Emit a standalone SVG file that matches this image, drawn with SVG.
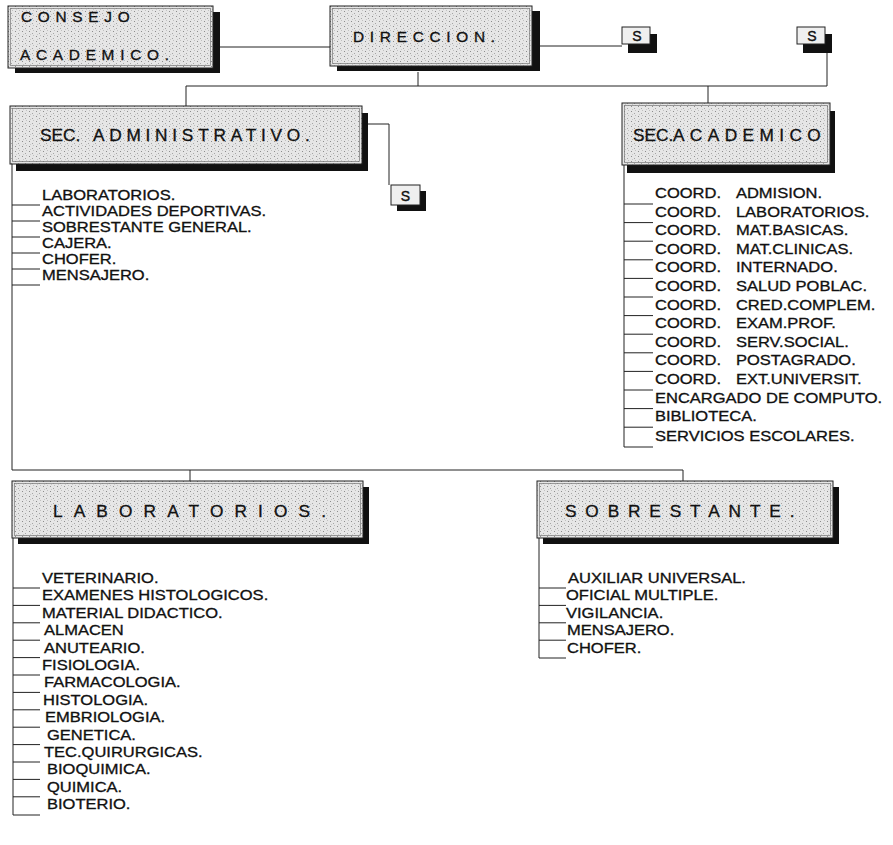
<svg xmlns="http://www.w3.org/2000/svg" width="893" height="845" viewBox="0 0 893 845">
<defs>
<pattern id="stip" width="7" height="5" patternUnits="userSpaceOnUse">
<rect width="7" height="5" fill="#e6e6e6"/>
<rect x="1" y="1" width="1" height="1" fill="#8c8c8c"/>
<rect x="4" y="3" width="1" height="1" fill="#a5a5a5"/>
<rect x="5" y="0" width="1" height="1" fill="#c0c0c0"/>
<rect x="2" y="4" width="1" height="1" fill="#c8c8c8"/>
</pattern>
</defs>
<style>
.sh{fill:#111}
.bx{fill:url(#stip);stroke:#222;stroke-width:1}
.in{fill:none;stroke:#777;stroke-width:0.7}
.sb{fill:#efefef;stroke:#222;stroke-width:1}
.ttl{font-family:"Liberation Sans",Arial,sans-serif;font-size:14px;fill:#111;stroke:#111;stroke-width:0.3px;letter-spacing:5.2px}
.sec{font-family:"Liberation Sans",Arial,sans-serif;font-size:16px;fill:#111;stroke:#111;stroke-width:0.3px}
.s{font-family:"Liberation Sans",Arial,sans-serif;font-size:14px;fill:#111;stroke:#111;stroke-width:0.4px;text-anchor:middle}
.li{font-family:"Liberation Sans",Arial,sans-serif;font-size:14px;fill:#111;stroke:#111;stroke-width:0.3px}
.ln{fill:none;stroke:#222;stroke-width:1}
</style>
<rect width="893" height="845" fill="#fff"/>

<g id="connectors" class="ln">
<path d="M220 47H330"/>
<path d="M539 46H622"/>
<path d="M418 72V86"/>
<path d="M186 86H827"/>
<path d="M827 52V86"/>
<path d="M186 86V106"/>
<path d="M708 86V103"/>
<path d="M368 124H389V185"/>
<path d="M12 164V470H683"/>
<path d="M190 470V481"/>
<path d="M683 470V481"/>
<path d="M12 205H40M12 221H40M12 237H40M12 253H40M12 269H40M12 285H40"/>
<path d="M624 165V447"/>
<path d="M624 204H653M624 222.6H653M624 241.2H653M624 259.8H653M624 278.4H653M624 297H653M624 315.6H653M624 334.2H653M624 352.8H653M624 371.4H653M624 390H653M624 408.6H653M624 427.2H653M624 447H653"/>
<path d="M13 538V815"/>
<path d="M13 588H40M13 605.4H40M13 622.8H40M13 640.2H40M13 657.6H40M13 675H40M13 692.4H40M13 709.8H40M13 727.2H40M13 744.6H40M13 762H40M13 779.4H40M13 796.8H40M13 815H40"/>
<path d="M539 538V658"/>
<path d="M539 588H566M539 605.4H566M539 622.8H566M539 640.2H566M539 658H566"/>
</g>

<g id="consejo">
<rect class="sh" x="15" y="12" width="205" height="61"/>
<rect class="bx" x="8" y="6" width="205" height="62"/>
<rect class="in" x="10.5" y="8.5" width="200" height="57"/>
<text class="ttl" transform="translate(21 22) scale(1.1 1)">CONSEJO</text>
<text class="ttl" transform="translate(20 60) scale(1.1 1)">ACADEMICO.</text>
</g>

<g id="direccion">
<rect class="sh" x="337" y="11" width="203" height="60"/>
<rect class="bx" x="330" y="6" width="202" height="60"/>
<rect class="in" x="332.5" y="8.5" width="197" height="55"/>
<text class="ttl" transform="translate(353 42) scale(1.1 1)">DIRECCION.</text>
</g>

<g id="s1">
<rect class="sh" x="628" y="34" width="29" height="19"/>
<rect class="sb" x="622" y="27" width="28" height="17"/>
<text class="s" x="637" y="41">S</text>
</g>

<g id="s2">
<rect class="sh" x="803" y="34" width="29" height="19"/>
<rect class="sb" x="797" y="27" width="28" height="17"/>
<text class="s" x="812" y="41">S</text>
</g>

<g id="sec-admin">
<rect class="sh" x="16" y="113" width="352" height="58"/>
<rect class="bx" x="10" y="106" width="352" height="58"/>
<rect class="in" x="12.5" y="108.5" width="347" height="53"/>
<text class="sec" transform="translate(40 141) scale(1.08 1)">SEC. <tspan x="49" letter-spacing="4.4">ADMINISTRATIVO.</tspan></text>
</g>

<g id="s3">
<rect class="sh" x="397" y="191" width="29" height="20"/>
<rect class="sb" x="391" y="185" width="29" height="20"/>
<text class="s" x="405.5" y="200.5">S</text>
</g>

<g id="sec-academico">
<rect class="sh" x="627" y="111" width="208" height="62"/>
<rect class="bx" x="622" y="103" width="208" height="62"/>
<rect class="in" x="624.5" y="105.5" width="203" height="57"/>
<text class="sec" transform="translate(633 141) scale(1.08 1)">SEC.<tspan x="37" letter-spacing="5">ACADEMICO</tspan></text>
</g>

<g id="laboratorios">
<rect class="sh" x="18" y="487" width="351" height="57"/>
<rect class="bx" x="12" y="481" width="351" height="57"/>
<rect class="in" x="14.5" y="483.5" width="346" height="52"/>
<text class="sec" letter-spacing="10.3" transform="translate(53 517) scale(1.08 1)">LABORATORIOS.</text>
</g>

<g id="sobrestante">
<rect class="sh" x="543" y="487" width="296" height="57"/>
<rect class="bx" x="537" y="481" width="296" height="57"/>
<rect class="in" x="539.5" y="483.5" width="291" height="52"/>
<text class="sec" letter-spacing="8.2" transform="translate(565 517) scale(1.08 1)">SOBRESTANTE.</text>
</g>

<g id="admin-list" class="li">
<text transform="translate(42 200) scale(1.18 1)">LABORATORIOS.</text>
<text transform="translate(42 216) scale(1.18 1)">ACTIVIDADES DEPORTIVAS.</text>
<text transform="translate(42 232) scale(1.18 1)">SOBRESTANTE GENERAL.</text>
<text transform="translate(42 248) scale(1.18 1)">CAJERA.</text>
<text transform="translate(42 264) scale(1.18 1)">CHOFER.</text>
<text transform="translate(42 280) scale(1.18 1)">MENSAJERO.</text>
</g>

<g id="acad-list" class="li">
<text transform="translate(655 198) scale(1.18 1)">COORD. <tspan x="68.6">ADMISION.</tspan></text>
<text transform="translate(655 216.6) scale(1.18 1)">COORD. <tspan x="68.6">LABORATORIOS.</tspan></text>
<text transform="translate(655 235.2) scale(1.18 1)">COORD. <tspan x="68.6">MAT.BASICAS.</tspan></text>
<text transform="translate(655 253.8) scale(1.18 1)">COORD. <tspan x="68.6">MAT.CLINICAS.</tspan></text>
<text transform="translate(655 272.4) scale(1.18 1)">COORD. <tspan x="68.6">INTERNADO.</tspan></text>
<text transform="translate(655 291) scale(1.18 1)">COORD. <tspan x="68.6">SALUD POBLAC.</tspan></text>
<text transform="translate(655 309.6) scale(1.18 1)">COORD. <tspan x="68.6">CRED.COMPLEM.</tspan></text>
<text transform="translate(655 328.2) scale(1.18 1)">COORD. <tspan x="68.6">EXAM.PROF.</tspan></text>
<text transform="translate(655 346.8) scale(1.18 1)">COORD. <tspan x="68.6">SERV.SOCIAL.</tspan></text>
<text transform="translate(655 365.4) scale(1.18 1)">COORD. <tspan x="68.6">POSTAGRADO.</tspan></text>
<text transform="translate(655 384) scale(1.18 1)">COORD. <tspan x="68.6">EXT.UNIVERSIT.</tspan></text>
<text transform="translate(655 402.6) scale(1.18 1)">ENCARGADO DE COMPUTO.</text>
<text transform="translate(655 421.2) scale(1.18 1)">BIBLIOTECA.</text>
<text transform="translate(655 440.5) scale(1.18 1)">SERVICIOS ESCOLARES.</text>
</g>

<g id="labs-list" class="li">
<text transform="translate(42 583) scale(1.18 1)">VETERINARIO.</text>
<text transform="translate(42 600.4) scale(1.18 1)">EXAMENES HISTOLOGICOS.</text>
<text transform="translate(42 617.8) scale(1.18 1)">MATERIAL DIDACTICO.</text>
<text transform="translate(44 635.2) scale(1.18 1)">ALMACEN</text>
<text transform="translate(44 652.6) scale(1.18 1)">ANUTEARIO.</text>
<text transform="translate(42 670) scale(1.18 1)">FISIOLOGIA.</text>
<text transform="translate(44 687.4) scale(1.18 1)">FARMACOLOGIA.</text>
<text transform="translate(43 704.8) scale(1.18 1)">HISTOLOGIA.</text>
<text transform="translate(45 722.2) scale(1.18 1)">EMBRIOLOGIA.</text>
<text transform="translate(47 739.6) scale(1.18 1)">GENETICA.</text>
<text transform="translate(44 757) scale(1.18 1)">TEC.QUIRURGICAS.</text>
<text transform="translate(47 774.4) scale(1.18 1)">BIOQUIMICA.</text>
<text transform="translate(47 791.8) scale(1.18 1)">QUIMICA.</text>
<text transform="translate(47 809.2) scale(1.18 1)">BIOTERIO.</text>
</g>

<g id="sob-list" class="li">
<text transform="translate(568 583) scale(1.18 1)">AUXILIAR UNIVERSAL.</text>
<text transform="translate(566 600.4) scale(1.18 1)">OFICIAL MULTIPLE.</text>
<text transform="translate(566 617.8) scale(1.18 1)">VIGILANCIA.</text>
<text transform="translate(567 635.2) scale(1.18 1)">MENSAJERO.</text>
<text transform="translate(567 652.6) scale(1.18 1)">CHOFER.</text>
</g>
</svg>
